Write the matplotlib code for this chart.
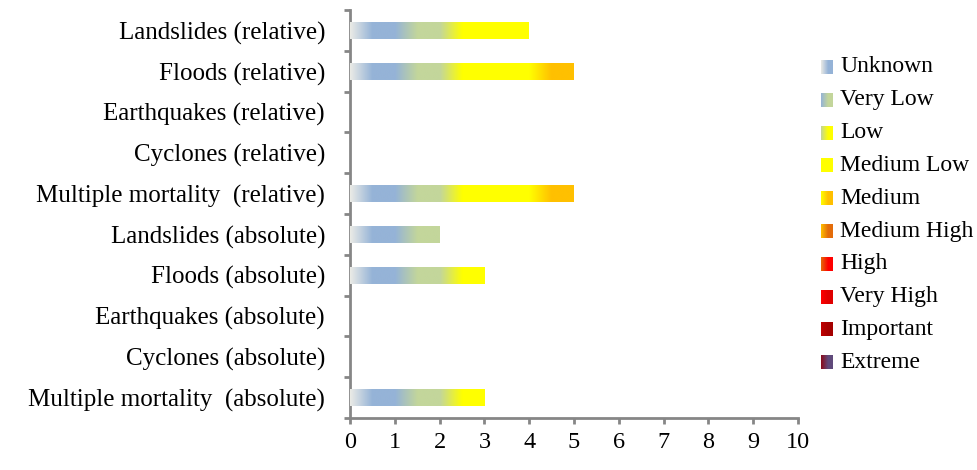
import matplotlib
matplotlib.use('Agg')
import matplotlib.pyplot as plt
import numpy as np
from matplotlib.colors import LinearSegmentedColormap

plt.rcParams['font.family'] = ['Liberation Serif', 'DejaVu Serif']

categories = ['Multiple mortality  (absolute)', 'Cyclones (absolute)', 'Earthquakes (absolute)',
              'Floods (absolute)', 'Landslides (absolute)', 'Multiple mortality  (relative)',
              'Cyclones (relative)', 'Earthquakes (relative)', 'Floods (relative)',
              'Landslides (relative)']

levels = ['Unknown', 'Very Low', 'Low', 'Medium Low', 'Medium', 'Medium High',
          'High', 'Very High', 'Important', 'Extreme']

# one unit per level reached, per category (bottom to top)
unknown     = [1, 0, 0, 1, 1, 1, 0, 0, 1, 1]
very_low    = [1, 0, 0, 1, 1, 1, 0, 0, 1, 1]
low         = [1, 0, 0, 1, 0, 1, 0, 0, 1, 1]
medium_low  = [0, 0, 0, 0, 0, 1, 0, 0, 1, 1]
medium      = [0, 0, 0, 0, 0, 1, 0, 0, 1, 0]
medium_high = [0] * 10
high        = [0] * 10
very_high   = [0] * 10
important   = [0] * 10
extreme     = [0] * 10
series = [unknown, very_low, low, medium_low, medium, medium_high,
          high, very_high, important, extreme]

# each level fades in from the colour of the level before it
start_col = '#ebebe6'
colors = ['#95b3d7', '#c3d69b', '#ffff00', '#ffff00', '#ffc000', '#e46c0a',
          '#ff0000', '#e00000', '#a50000', '#604a7b']
prev_cols = [start_col] + colors[:-1]
prev_cols[8] = '#c00000'
prev_cols[9] = '#8b0a1a'

grad = np.linspace(0, 1, 200).reshape(1, -1)

fig = plt.figure(figsize=(9.78, 4.70), dpi=100)
ax = fig.add_axes([0.3579, 0.1106, 0.458, 0.868])

y = np.arange(len(categories))
left = np.zeros(len(categories))
for i, vals in enumerate(series):
    vals = np.array(vals, dtype=float)
    cmap = LinearSegmentedColormap.from_list(
        'g%d' % i, [(0, prev_cols[i]), (0.5, colors[i]), (1, colors[i])])
    bars = ax.barh(y, vals, left=left, height=0.42, color=colors[i], linewidth=0)
    for b, v in zip(bars, vals):
        if v <= 0:
            continue
        x0, y0 = b.get_x(), b.get_y()
        im = ax.imshow(grad, cmap=cmap, aspect='auto', interpolation='bilinear',
                       extent=[x0, x0 + b.get_width(), y0, y0 + b.get_height()], zorder=3)
        im.set_clip_path(b)
    left += vals

ax.set_xlim(0, 10)
ax.set_ylim(-0.5, len(categories) - 0.5)
ax.set_xticks(range(0, 11))
ax.set_yticks(y)
ax.set_yticklabels(categories)
ax.set_yticks(np.arange(-0.5, len(categories), 1), minor=True)
ax.tick_params(axis='y', which='major', length=0, pad=18, labelsize=18)
ax.tick_params(axis='y', which='minor', length=4, width=2, color='#868686', direction='out')
ax.tick_params(axis='x', length=4, width=2, color='#868686', direction='out', pad=6, labelsize=17.5)
for s in ['top', 'right']:
    ax.spines[s].set_visible(False)
for s in ['left', 'bottom']:
    ax.spines[s].set_color('#868686')
    ax.spines[s].set_linewidth(2)

# legend with gradient swatches
lax = fig.add_axes([0, 0, 1, 1])
lax.set_xlim(0, 978)
lax.set_ylim(470, 0)
lax.axis('off')
for i, name in enumerate(levels):
    yc = 67 + i * 32.8
    cmap = LinearSegmentedColormap.from_list(
        'l%d' % i, [(0, prev_cols[i]), (0.6, colors[i]), (1, colors[i])])
    lax.imshow(grad, cmap=cmap, aspect='auto', interpolation='bilinear',
               extent=[821, 833, yc + 7, yc - 7])
    lax.text(840, yc, name, va='center', ha='left', fontsize=17)
lax.set_xlim(0, 978)
lax.set_ylim(470, 0)

fig.savefig('out.png', dpi=100)
